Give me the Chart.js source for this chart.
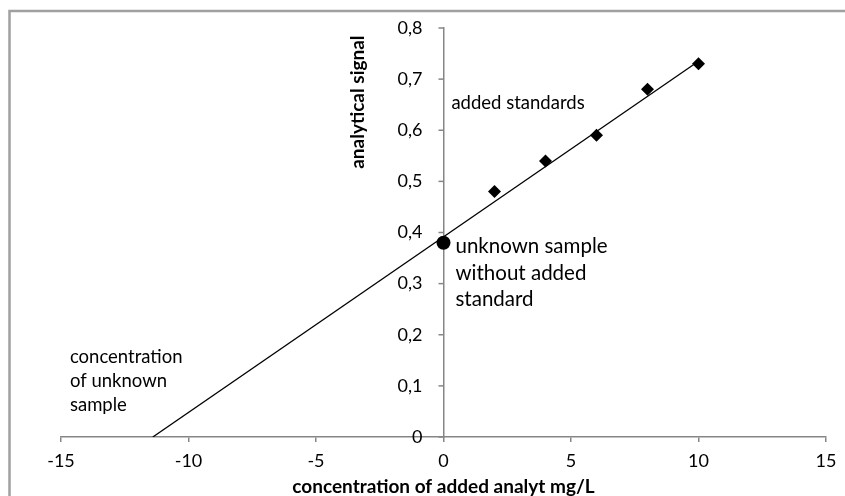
<!DOCTYPE html>
<html>
<head>
<meta charset="utf-8">
<script src="https://cdn.jsdelivr.net/npm/chart.js@4/dist/chart.umd.min.js"></script>
<style>
  html, body { margin: 0; padding: 0; background: #fff; }
  #wrap { width: 845px; height: 496px; position: relative; }
</style>
</head>
<body>
<div id="wrap"><canvas id="ChartAddition"></canvas></div>
<script>
// added standards (mg/L) and measured signal
var addedConc = [2, 4, 6, 8, 10];
var addedSignal = [0.48, 0.54, 0.59, 0.68, 0.73];

// the sample alone
var unknownConc = [0];
var unknownSignal = [0.38];

// fitted line, read at its two ends
var fitConc = [-11.4, 10];
var fitSignal = [0, 0.735];

var xTicks = [-15, -10, -5, 0, 5, 10, 15];
var yTicks = [0, 0.1, 0.2, 0.3, 0.4, 0.5, 0.6, 0.7, 0.8];

var xTitle = "concentration of added analyt mg/L";
var yTitle = "analytical signal";

// notes: [x, y, lines, font size, line step]
var notes = [
    [0.31, 0.653, ["added standards"], 18.5, 24],
    [0.47, 0.372, ["unknown sample", "without added", "standard"], 20.5, 26.5],
    [-14.65, 0.157, ["concentration", "of unknown", "sample"], 18.5, 24]
];

var FONT = "Lato, 'Open Sans', sans-serif";
var AXIS_GREY = "#868686";

function toPoints(xs, ys) {
    let pts = [];
    for (let i = 0; i < xs.length; i++) {
        pts.push({x: xs[i], y: ys[i]});
    }
    return pts;
}

function commaLabel(v) {
    let r = Math.round(v * 10) / 10;
    return r.toString().replace(".", ",");
}

var extrasPlugin = {
    id: "extras",
    beforeDraw(chart) {
        let c = chart.ctx;
        c.save();
        c.fillStyle = "#fff";
        c.fillRect(0, 0, chart.width, chart.height);
        // frame: only top and left edges are in view
        c.strokeStyle = "#a0a0a0";
        c.lineWidth = 2.5;
        c.beginPath();
        c.moveTo(9.5, chart.height);
        c.lineTo(9.5, 11);
        c.lineTo(chart.width, 11);
        c.stroke();
        c.restore();
    },
    afterDraw(chart) {
        let c = chart.ctx;
        let xs = chart.scales.x, ys = chart.scales.y;
        let axisX = xs.getPixelForValue(0);
        c.save();

        // y tick marks and labels, left of the crossing axis
        c.strokeStyle = AXIS_GREY;
        c.lineWidth = 1.5;
        c.fillStyle = "#000";
        c.font = "18px " + FONT;
        c.textAlign = "right";
        c.textBaseline = "middle";
        yTicks.forEach(v => {
            let py = ys.getPixelForValue(v);
            c.beginPath();
            c.moveTo(axisX - 5, py);
            c.lineTo(axisX, py);
            c.stroke();
            c.fillText(commaLabel(v), axisX - 21, py);
        });

        c.textAlign = "left";
        notes.forEach(n => {
            c.font = n[3] + "px " + FONT;
            let px = xs.getPixelForValue(n[0]);
            let py = ys.getPixelForValue(n[1]);
            n[2].forEach((line, i) => {
                c.fillText(line, px, py + i * n[4]);
            });
        });

        // axis titles
        c.font = "bold 19px " + FONT;
        c.textAlign = "center";
        c.fillText(xTitle, axisX, chart.chartArea.bottom + 50);

        c.translate(xs.getPixelForValue(-3.37), ys.getPixelForValue(0.655));
        c.rotate(-Math.PI / 2);
        c.fillText(yTitle, 0, 0);
        c.restore();
    }
};

var myChart = new Chart(document.getElementById("ChartAddition").getContext("2d"), {
    type: "scatter",
    data: {
        datasets: [
            {
                label: "fit",
                data: toPoints(fitConc, fitSignal),
                showLine: true,
                borderColor: "#000",
                borderWidth: 1.3,
                pointRadius: 0,
                order: 3
            },
            {
                label: "added standards",
                data: toPoints(addedConc, addedSignal),
                pointStyle: "rectRot",
                pointRadius: 6.5,
                backgroundColor: "#000",
                borderColor: "#000",
                borderWidth: 0,
                order: 1
            },
            {
                label: "unknown sample",
                data: toPoints(unknownConc, unknownSignal),
                pointStyle: "circle",
                pointRadius: 7,
                backgroundColor: "#000",
                borderColor: "#000",
                borderWidth: 0,
                order: 2
            }
        ]
    },
    options: {
        responsive: true,
        maintainAspectRatio: false,
        animation: false,
        layout: { padding: { left: 61, right: 19, top: 28, bottom: 0 } },
        plugins: {
            legend: { display: false },
            tooltip: { enabled: false }
        },
        scales: {
            x: {
                type: "linear",
                min: -15,
                max: 15,
                afterBuildTicks: s => { s.ticks = xTicks.map(v => ({value: v})); },
                afterFit: s => { s.height = 59; },
                border: { color: AXIS_GREY, width: 1.5 },
                grid: { drawOnChartArea: false, drawTicks: true, tickLength: 5, color: AXIS_GREY, lineWidth: 1.5 },
                ticks: { color: "#000", padding: 8, font: { family: FONT, size: 18 } }
            },
            y: {
                type: "linear",
                position: { x: 0 },
                min: 0,
                max: 0.8,
                afterBuildTicks: s => { s.ticks = yTicks.map(v => ({value: v})); },
                border: { color: AXIS_GREY, width: 1.5 },
                grid: { display: false },
                ticks: { display: false }
            }
        }
    },
    plugins: [extrasPlugin]
});
</script>
</body>
</html>
